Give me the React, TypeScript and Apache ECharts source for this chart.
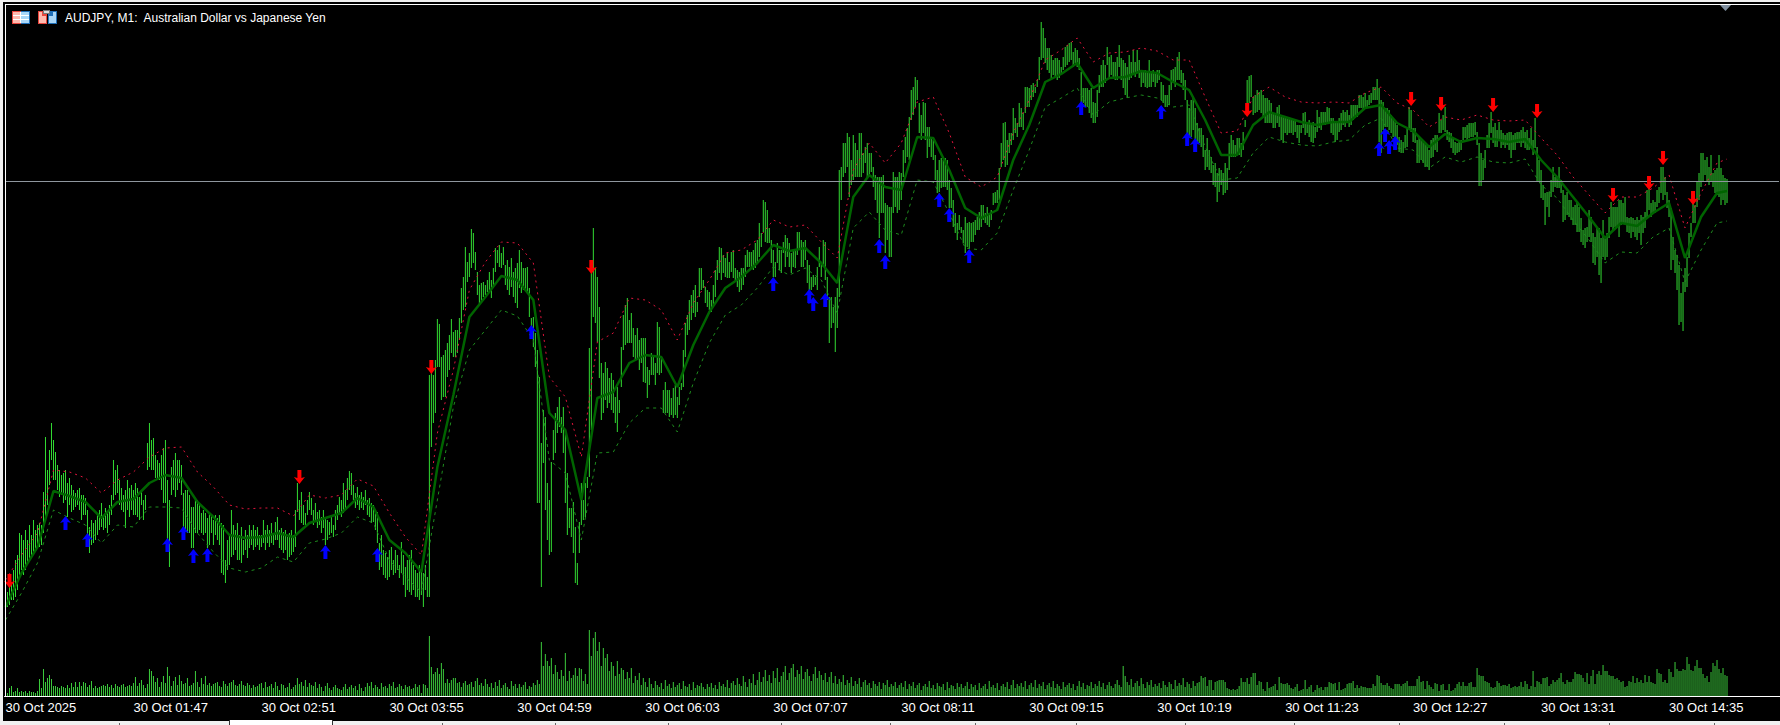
import React, { useEffect, useRef } from "react";
import * as echarts from "echarts";

const TICK_LABELS = ["30 Oct 2025","30 Oct 01:47","30 Oct 02:51","30 Oct 03:55","30 Oct 04:59","30 Oct 06:03","30 Oct 07:07","30 Oct 08:11","30 Oct 09:15","30 Oct 10:19","30 Oct 11:23","30 Oct 12:27","30 Oct 13:31","30 Oct 14:35"];
const TITLE = "AUDJPY, M1:  Australian Dollar vs Japanese Yen";
const BARS_PER_LABEL = 64;
const SLOTS = 888;

const HIGH = [
10,18,25,25,40,50,55,77,75,70,80,70,85,75,90,80,85,87,85,118,173,140,160,187,170,158,145,140,135,137,140,127,
132,125,120,117,120,122,115,115,112,100,83,90,87,90,95,100,107,95,102,97,105,115,150,140,145,130,122,115,120,130,122,125,
120,127,122,113,120,110,115,167,187,170,172,155,150,147,155,162,170,130,110,143,150,157,150,150,145,117,120,120,115,103,103,110,
110,105,97,100,97,92,97,95,90,95,92,95,87,85,50,70,75,100,85,80,87,75,83,70,80,75,85,80,85,80,83,75,
75,90,80,85,80,87,75,88,93,80,82,78,80,73,77,80,75,100,127,110,118,105,97,110,118,112,100,107,98,100,93,100,
93,90,88,93,85,100,105,113,110,127,120,132,139,137,125,117,123,115,118,113,120,110,112,107,105,100,98,67,75,60,57,53,
60,63,50,60,55,45,68,55,43,50,55,60,45,40,37,45,40,37,45,33,235,237,235,250,291,286,253,255,260,267,275,291,
278,280,280,292,322,333,363,348,357,381,377,358,338,325,327,328,325,330,338,330,342,362,360,365,357,363,345,350,343,352,338,342,
347,360,348,342,342,343,322,292,293,277,260,233,167,200,193,127,110,148,180,197,203,213,193,203,180,137,102,102,108,83,47,88,
127,110,127,133,262,337,382,342,333,303,247,237,248,242,232,237,230,213,223,210,263,295,305,312,290,297,282,275,282,270,272,272,
272,243,240,257,253,247,288,283,253,220,228,220,220,212,222,225,213,223,227,260,287,295,310,315,320,325,308,342,342,330,323,320,
318,310,325,340,350,363,362,355,352,357,348,358,360,342,340,338,342,342,355,360,358,358,360,367,370,387,377,410,408,400,382,370,
360,348,367,360,360,368,375,372,367,357,360,360,378,378,370,368,370,350,345,333,335,333,343,363,347,370,368,333,313,313,303,313,
322,440,443,467,467,477,473,450,475,467,460,477,477,457,463,467,457,457,443,435,433,433,433,435,407,405,403,403,438,433,433,438,
437,460,473,482,493,520,523,533,530,507,495,508,507,483,483,473,470,455,440,450,452,450,452,450,430,422,410,397,387,395,383,380,
393,387,388,387,388,390,393,398,405,405,397,403,397,400,417,418,420,442,467,487,488,470,477,477,502,492,487,507,502,497,523,523,
522,525,527,523,530,553,588,582,572,562,562,555,550,552,552,550,543,553,563,565,567,568,558,562,560,552,538,522,522,522,520,522,
508,507,520,535,545,550,545,563,553,555,548,548,553,565,552,550,547,543,555,548,560,548,560,550,540,538,540,538,550,538,540,538,
540,540,528,525,515,515,525,540,541,543,553,558,540,537,530,510,502,510,512,502,487,482,482,475,460,472,460,453,445,447,437,442,
440,437,447,442,467,475,470,465,472,472,467,478,490,530,534,535,513,515,520,518,520,515,512,512,510,507,497,495,503,505,493,493,
493,493,493,492,490,490,485,485,485,497,498,488,490,487,488,483,500,493,498,498,498,503,502,492,492,488,488,492,497,500,498,500,
495,505,505,505,505,515,515,513,517,510,515,517,523,523,531,522,510,508,502,502,500,495,492,488,485,473,470,468,475,482,503,500,
482,482,470,472,472,470,467,465,460,470,472,475,475,497,490,495,503,480,478,477,472,468,467,468,470,483,483,485,487,487,487,488,
478,467,457,450,460,475,487,498,483,487,480,488,480,477,475,477,478,478,475,477,478,478,480,483,478,480,472,482,470,492,463,450,
440,425,417,418,418,430,443,433,433,443,430,420,415,418,410,410,403,405,408,403,392,380,382,383,400,393,377,373,383,382,372,390,
373,377,393,408,403,403,403,410,410,407,413,393,392,393,392,390,393,390,395,393,398,420,422,407,410,408,420,423,443,443,433,418,
410,402,373,360,355,345,317,328,342,353,377,387,407,405,428,437,457,457,450,453,443,455,437,440,442,455,442,435,432,431,
];

const LOW = [
-2,3,5,10,10,13,20,35,40,35,40,45,50,55,55,60,62,63,65,77,93,105,125,150,130,130,120,113,115,107,110,93,
105,98,100,103,105,100,90,95,95,63,57,65,67,70,75,80,83,80,82,77,85,95,110,115,117,105,100,98,82,100,93,100,
95,95,93,90,105,90,100,140,143,140,140,132,130,130,120,107,107,70,43,115,120,113,120,127,115,83,80,77,77,62,62,77,
77,80,77,75,77,62,65,77,65,75,70,65,37,35,27,40,45,53,55,60,50,50,47,55,60,52,62,65,60,63,65,60,
63,67,60,67,63,67,65,70,70,62,60,57,60,50,53,55,58,63,98,90,87,85,85,95,100,95,85,88,82,85,77,82,
65,70,75,77,73,80,90,97,93,97,100,110,120,115,110,102,105,100,102,100,105,95,93,87,88,80,67,40,43,35,32,30,
33,40,35,37,40,32,37,25,13,20,18,15,20,13,13,10,15,3,20,13,13,163,187,197,243,243,210,213,213,233,240,257,
253,253,257,270,287,300,303,328,333,342,347,340,315,305,307,313,315,318,318,312,322,338,347,343,342,345,325,320,315,323,313,307,
302,322,317,320,320,318,293,273,263,243,107,107,23,147,100,70,55,58,150,157,177,183,177,157,107,75,82,73,57,27,25,57,
85,90,93,122,133,180,293,287,268,232,190,197,210,202,207,200,197,187,178,197,223,260,265,267,267,267,253,250,250,240,247,228,
227,212,225,235,235,225,237,235,237,197,197,197,193,195,192,195,192,205,220,223,253,275,280,290,297,293,298,313,320,322,307,303,
300,298,305,313,330,337,330,337,333,332,332,338,332,328,323,318,320,325,333,343,343,342,340,342,347,353,363,378,368,367,367,347,
333,333,347,340,337,357,343,353,343,337,343,342,355,360,343,343,350,327,317,320,323,325,320,343,333,343,330,310,267,282,287,258,
282,313,410,433,437,443,413,425,430,433,433,433,433,437,447,433,433,438,423,410,397,372,397,397,357,370,353,353,397,403,397,400,
410,433,447,453,450,490,495,503,510,477,470,477,470,452,463,453,450,430,417,418,422,423,423,420,402,402,383,377,370,380,377,367,
357,363,362,368,368,375,380,380,383,390,387,385,383,390,405,407,407,410,443,450,443,445,457,465,470,477,473,483,483,480,497,503,
503,510,513,517,523,530,550,552,547,540,537,532,535,533,530,532,535,540,543,545,548,550,543,547,543,540,508,507,503,503,497,492,
487,487,493,517,523,523,527,545,533,535,533,530,530,543,530,522,515,512,530,532,535,533,537,532,523,527,523,522,523,523,528,523,
527,530,510,507,503,503,505,520,527,523,530,530,527,520,510,477,473,473,480,470,467,467,463,453,440,443,440,437,425,423,408,418,
425,415,417,420,440,453,453,453,455,455,453,460,483,503,507,513,495,497,498,500,497,493,487,487,487,487,482,482,487,483,470,467,
477,475,477,477,475,478,472,467,477,482,475,477,473,468,467,472,478,482,480,487,485,487,487,477,475,468,470,478,480,485,483,487,
483,485,490,492,493,502,502,500,502,502,505,507,510,510,510,468,457,480,483,483,480,477,473,467,465,458,457,457,462,463,482,478,
468,467,447,447,450,447,443,443,440,452,453,460,458,477,477,480,478,470,468,462,457,455,457,458,460,470,472,470,472,473,473,475,
465,424,424,430,442,462,462,477,467,463,463,470,462,465,462,465,460,452,460,460,467,467,463,467,462,460,460,462,455,462,428,428,
412,410,385,403,393,413,418,423,422,422,417,388,390,395,393,390,385,385,378,378,368,365,362,368,373,368,347,345,353,335,327,353,
350,353,372,383,380,383,383,373,385,387,387,378,377,372,378,373,370,377,365,377,382,393,400,393,397,397,403,407,417,410,415,402,
393,340,350,337,320,285,288,279,318,323,352,373,387,387,403,410,423,428,435,428,425,428,423,417,415,413,405,410,405,407,
];

const VOLUME = [
6,3,8,10,4,5,8,4,5,4,5,3,5,4,4,3,5,17,8,27,14,18,21,17,10,10,9,8,10,9,8,11,
8,13,9,14,9,14,10,14,13,9,11,15,8,10,8,9,10,11,10,12,9,11,8,12,10,9,11,12,9,10,11,10,
13,19,10,13,16,11,8,12,27,25,20,14,18,9,14,20,13,29,20,10,15,19,11,21,15,12,13,18,10,11,13,25,
14,9,18,12,20,11,13,10,12,13,14,10,9,15,12,10,13,14,16,11,10,12,15,11,10,13,11,8,11,9,10,12,
13,8,14,9,10,12,8,14,10,6,12,11,8,9,13,7,9,11,18,12,14,10,16,9,13,11,10,14,8,12,9,5,
10,13,8,6,9,11,8,7,6,9,12,7,9,11,8,10,6,12,8,5,9,13,10,14,8,11,9,7,13,9,10,8,
12,10,14,8,9,12,10,7,11,9,10,7,8,12,9,11,3,12,11,8,60,29,22,24,28,22,33,27,13,17,13,16,
18,18,13,14,9,13,15,11,12,14,9,15,18,11,13,10,17,12,9,13,8,14,10,16,8,11,13,9,7,15,10,12,
8,12,9,11,14,7,10,9,13,11,16,12,54,30,42,35,30,38,22,31,24,17,26,20,43,15,25,18,21,28,20,28,
27,15,22,12,69,40,58,64,45,54,30,48,38,42,25,34,30,20,35,22,28,26,17,24,18,28,13,20,16,23,11,18,
14,9,18,12,8,15,11,9,13,7,16,10,12,8,14,9,11,13,7,15,10,9,12,6,14,8,11,10,13,9,7,12,
9,13,8,11,7,14,10,12,9,16,8,13,15,11,18,12,10,20,14,9,17,13,22,11,16,24,14,19,26,15,21,13,
25,18,28,14,20,24,30,16,23,28,32,19,26,22,30,17,24,27,20,15,22,29,18,25,21,16,23,14,19,24,13,20,
12,17,14,21,11,16,13,19,10,15,12,18,9,14,16,11,13,8,15,12,10,14,7,13,11,16,9,12,10,14,8,11,
13,9,15,7,12,10,14,8,11,13,6,10,12,9,15,8,11,7,13,10,9,12,6,14,8,11,10,7,13,9,12,8,
10,14,7,12,9,11,6,13,8,10,12,7,15,9,11,8,13,6,10,12,9,14,7,11,16,8,12,10,13,9,15,7,
11,13,9,16,8,12,10,14,7,11,13,9,15,8,12,10,7,14,9,11,13,8,12,6,10,15,9,13,7,11,10,14,
8,12,10,15,9,13,7,11,14,10,8,12,16,11,9,30,20,14,11,17,9,13,15,10,18,12,8,14,11,16,9,12,
10,13,8,15,11,9,14,12,7,16,10,13,11,18,9,14,12,8,15,10,13,14,20,18,19,10,16,16,6,14,15,16,
16,16,14,8,7,6,7,6,7,10,18,14,14,18,12,19,23,23,11,15,14,7,5,14,8,9,10,12,6,19,13,12,
12,13,11,8,7,9,12,5,6,7,16,7,9,11,4,6,11,8,9,6,9,9,14,13,12,13,6,14,6,7,8,12,
13,13,15,8,11,8,10,9,9,8,8,8,12,10,21,20,13,11,11,13,10,8,7,12,12,12,10,12,13,15,10,10,
10,10,17,20,14,15,7,15,11,9,7,13,12,5,11,12,6,6,12,5,6,8,12,14,10,14,10,10,13,14,9,9,
28,21,20,20,15,14,13,9,8,9,15,13,10,11,11,10,12,8,9,10,9,10,14,9,15,12,7,10,25,9,15,14,
12,18,18,19,10,12,16,14,16,18,23,14,12,16,14,14,17,24,22,22,21,18,14,23,12,20,26,12,22,25,21,31,
25,25,21,20,20,17,18,16,14,15,9,10,15,14,20,13,18,14,16,13,21,14,20,14,13,12,27,23,22,14,16,13,
27,24,19,34,27,25,25,27,26,39,32,26,25,30,36,28,28,22,18,20,14,24,33,30,36,27,23,28,21,20,
];

const LINE_STEP = 8;
const MA_LINE = [3,37,63,119,114,108,92,108,111,127,135,132,108,93,75,72,73,77,73,87,92,97,112,103,70,57,38,143,215,293,313,334,330,310,197,180,110,212,218,247,255,253,223,265,298,322,333,347,365,359,362,347,327,413,435,423,420,473,472,440,402,392,400,450,485,528,536,547,522,532,533,539,537,528,520,490,455,455,485,498,493,488,485,488,488,502,505,487,479,463,476,468,472,471,468,471,450,433,413,393,372,387,384,397,407,352,393,417,419];
const UPPER_LINE = [30,55,77,140,138,132,117,130,138,153,162,163,138,123,105,101,102,102,94,115,112,115,131,124,97,73,55,177,240,320,348,368,367,347,233,213,153,268,277,312,310,300,270,307,330,357,360,370,390,383,385,368,352,440,467,447,467,508,513,477,433,423,433,477,510,550,560,572,548,557,558,562,559,550,550,513,477,479,513,523,513,508,507,508,507,517,523,507,500,483,493,490,495,490,489,490,472,455,433,415,397,413,413,422,435,382,417,447,451];
const LOWER_LINE = [-10,17,47,100,92,85,67,85,83,103,103,102,77,58,42,38,42,53,48,67,71,77,93,87,50,33,18,110,203,260,280,300,294,270,150,137,70,157,158,187,202,202,178,227,267,295,305,322,343,335,342,330,297,382,398,380,375,430,428,397,362,360,377,420,460,503,512,522,495,508,512,515,512,503,505,463,430,432,457,473,468,465,464,468,470,485,492,462,460,442,453,448,453,448,447,451,425,412,390,370,347,358,357,373,382,328,360,387,389];

const BUY_BARS = [30,41,81,89,94,101,160,186,263,384,402,404,410,437,440,467,472,482,538,578,591,595,687,690,692,695];
const BUY_VALUES = [87,70,65,77,54,55,58,55,278,326,314,306,310,364,348,410,395,354,502,498,471,465,461,475,463,467];
const SELL_BARS = [2,147,213,293,621,703,718,744,766,804,822,829,844];
const SELL_VALUES = [29,133,243,343,500,511,506,505,499,415,427,452,412];
const BID_LEVEL = 428.5;

const TAB_DIVIDERS = [119,442,555,668,781,890,975,1076,1185,1294,1399,1504,1609,1714];

const UP_ARROW = "path://M5.5 0L11 7L7.5 6L7.5 14L3.5 14L3.5 6L0 7Z";
const DOWN_ARROW = "path://M3.5 0L7.5 0L7.5 8L11 7L5.5 14L0 7L3.5 8Z";

const categories = Array.from({ length: SLOTS }, (_, i) =>
  i % BARS_PER_LABEL === 0 ? TICK_LABELS[i / BARS_PER_LABEL] ?? "" : ""
);
const knots = (values: number[]) =>
  values.map((v, k) => [Math.min(k * LINE_STEP, HIGH.length - 1), v]);

const icon = (x: number, y: number, w: number, h: number, fill: string) => ({
  type: "rect", z: 101, shape: { x, y, width: w, height: h }, style: { fill },
});

export default function App() {
  const ref = useRef<HTMLDivElement>(null);
  useEffect(() => {
    document.body.style.margin = "0";
    const chart = echarts.init(ref.current!, null, { renderer: "svg" });
    const font = "'Liberation Sans', sans-serif";
    const axisCommon = { type: "category", data: categories, boundaryGap: true };
    chart.setOption({
      animation: false,
      backgroundColor: "#000",
      grid: [
        { left: 4.5, top: 10, width: 1776, height: 620 },
        { left: 4.5, top: 630, width: 1776, height: 66 },
      ],
      xAxis: [
        { ...axisCommon, gridIndex: 0, show: false },
        {
          ...axisCommon,
          gridIndex: 1,
          axisLine: { lineStyle: { color: "#fff", width: 1 } },
          axisTick: { alignWithLabel: true, interval: BARS_PER_LABEL - 1, length: 4, lineStyle: { color: "#fff" } },
          axisLabel: { interval: BARS_PER_LABEL - 1, align: "left", color: "#fff", fontFamily: font, fontSize: 13, margin: 5, hideOverlap: false },
          splitLine: { show: false },
        },
      ],
      yAxis: [
        { type: "value", gridIndex: 0, min: -20, max: 600, show: false, splitLine: { show: false } },
        { type: "value", gridIndex: 1, min: 0, max: 66, show: false, splitLine: { show: false } },
      ],
      series: [
        {
          type: "custom",
          name: "Price",
          xAxisIndex: 0,
          yAxisIndex: 0,
          z: 2,
          clip: false,
          encode: { x: 0, y: [1, 2] },
          data: HIGH.map((h, i) => [i, h, LOW[i]]),
          renderItem: (_: any, api: any) => {
            const top = api.coord([api.value(0), api.value(1)]);
            const bottom = api.coord([api.value(0), api.value(2)]);
            return {
              type: "rect",
              shape: { x: top[0] - 0.5, y: Math.round(top[1]), width: 1, height: Math.max(1, Math.round(bottom[1] - top[1])) },
              style: { fill: "#32dc32" },
            };
          },
        },
        {
          type: "line", name: "Upper", xAxisIndex: 0, yAxisIndex: 0, z: 3, showSymbol: false, clip: false,
          data: knots(UPPER_LINE), lineStyle: { color: "#e0143c", width: 1, type: [2, 4] },
        },
        {
          type: "line", name: "Lower", xAxisIndex: 0, yAxisIndex: 0, z: 3, showSymbol: false, clip: false,
          data: knots(LOWER_LINE), lineStyle: { color: "#1e8c1e", width: 1, type: [3, 4] },
        },
        {
          type: "line", name: "MA", xAxisIndex: 0, yAxisIndex: 0, z: 4, showSymbol: false, clip: false,
          data: knots(MA_LINE), lineStyle: { color: "#006400", width: 2.5 },
        },
        {
          type: "line", name: "Bid", xAxisIndex: 0, yAxisIndex: 0, z: 5, showSymbol: false,
          data: [[0, BID_LEVEL], [SLOTS - 1, BID_LEVEL]], lineStyle: { color: "#8f979e", width: 1 },
        },
        {
          type: "scatter", name: "Buy", xAxisIndex: 0, yAxisIndex: 0, z: 6, clip: false,
          symbol: UP_ARROW, symbolSize: [11, 14], symbolKeepAspect: false,
          data: BUY_BARS.map((b, i) => [b, BUY_VALUES[i]]), itemStyle: { color: "#0000ff", opacity: 1 },
        },
        {
          type: "scatter", name: "Sell", xAxisIndex: 0, yAxisIndex: 0, z: 6, clip: false,
          symbol: DOWN_ARROW, symbolSize: [11, 14], symbolKeepAspect: false,
          data: SELL_BARS.map((b, i) => [b, SELL_VALUES[i]]), itemStyle: { color: "#ff0000", opacity: 1 },
        },
        {
          type: "bar", name: "Volume", xAxisIndex: 1, yAxisIndex: 1, barWidth: 1, z: 2,
          data: VOLUME, itemStyle: { color: "#3ccb3c" },
        },
      ],
      graphic: [
        { type: "rect", z: 100, shape: { x: 0, y: 0, width: 3, height: 725 }, style: { fill: "#f0f0f0" } },
        { type: "rect", z: 100, shape: { x: 0, y: 0, width: 1780, height: 2 }, style: { fill: "#f0f0f0" } },
        { type: "rect", z: 100, shape: { x: 5, y: 4, width: 1775, height: 1 }, style: { fill: "#fff" } },
        { type: "rect", z: 100, shape: { x: 5, y: 4, width: 1, height: 693 }, style: { fill: "#fff" } },
        { type: "rect", z: 100, shape: { x: 0, y: 721, width: 1780, height: 4 }, style: { fill: "#f0f0f0" } },
        { type: "rect", z: 101, shape: { x: 229, y: 720, width: 104, height: 5 }, style: { fill: "#333" } },
        { type: "rect", z: 102, shape: { x: 230, y: 720, width: 102, height: 5 }, style: { fill: "#fff" } },
        ...TAB_DIVIDERS.map((x) => ({ type: "rect", z: 101, shape: { x, y: 723, width: 1, height: 2 }, style: { fill: "#666" } })),
        { type: "polygon", z: 101, shape: { points: [[1720, 5], [1731, 5], [1725.5, 11]] }, style: { fill: "#7f8fa0" } },
        icon(12, 11, 9, 13, "#e8453c"), icon(13, 12, 7, 11, "#ffb9ae"),
        icon(21, 11, 9, 13, "#1f6fb8"), icon(21, 12, 8, 11, "#a9d6f7"),
        icon(13, 15, 16, 1, "#fff"), icon(13, 19, 16, 1, "#fff"), icon(20, 12, 1, 11, "#fff"),
        icon(38, 11, 9, 13, "#e8453c"), icon(39, 16, 7, 7, "#ffb9ae"), icon(39, 12, 3, 4, "#ffb9ae"),
        icon(48, 11, 9, 13, "#1f6fb8"), icon(49, 16, 7, 7, "#a9d6f7"), icon(53, 12, 3, 4, "#a9d6f7"),
        icon(43, 10, 7, 4, "#777"), icon(44, 11, 5, 2, "#ddd"),
        {
          type: "text", z: 101, x: 65, y: 18,
          style: { text: TITLE, fill: "#fff", font: `12px ${font}`, textVerticalAlign: "middle" },
        },
      ],
    });
    return () => chart.dispose();
  }, []);
  return <div ref={ref} style={{ width: 1780, height: 725 }} />;
}
